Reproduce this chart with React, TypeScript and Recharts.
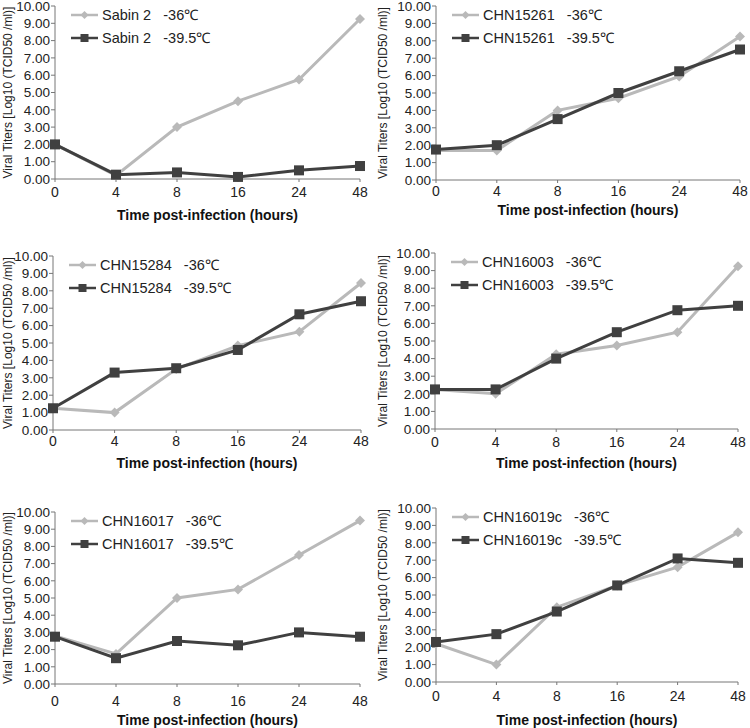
import React from "react";
import { LineChart, Line, XAxis, YAxis } from "recharts";

// time points (hours post-infection)
const hours = ["0", "4", "8", "16", "24", "48"];
const yTicks = [0, 1, 2, 3, 4, 5, 6, 7, 8, 9, 10];

const strains = ["Sabin 2", "CHN15261", "CHN15284", "CHN16003", "CHN16017", "CHN16019c"];

// titers, Log10 TCID50/ml
const sabin2_36 = [2.0, 0.2, 3.0, 4.5, 5.75, 9.25];
const sabin2_395 = [2.0, 0.25, 0.38, 0.12, 0.5, 0.75];
const chn15261_36 = [1.7, 1.7, 4.0, 4.7, 5.95, 8.25];
const chn15261_395 = [1.75, 2.0, 3.5, 5.0, 6.25, 7.5];
const chn15284_36 = [1.25, 1.0, 3.5, 4.85, 5.65, 8.45];
const chn15284_395 = [1.25, 3.3, 3.55, 4.6, 6.65, 7.4];
const chn16003_36 = [2.25, 2.0, 4.25, 4.75, 5.5, 9.25];
const chn16003_395 = [2.25, 2.25, 4.0, 5.5, 6.75, 7.0];
const chn16017_36 = [2.8, 1.75, 5.0, 5.5, 7.5, 9.5];
const chn16017_395 = [2.75, 1.5, 2.5, 2.25, 3.0, 2.75];
const chn16019c_36 = [2.2, 1.0, 4.3, 5.55, 6.6, 8.6];
const chn16019c_395 = [2.3, 2.75, 4.05, 5.55, 7.1, 6.85];

const series36 = [sabin2_36, chn15261_36, chn15284_36, chn16003_36, chn16017_36, chn16019c_36];
const series395 = [sabin2_395, chn15261_395, chn15284_395, chn16003_395, chn16017_395, chn16019c_395];

// panel placement on the page
const layouts = [
  { left: 0, top: 0, h: 230, mTop: 6, mRight: 15, yW: 55, xH: 51, tickMargin: 5, titleDy: 36 },
  { left: 375, top: 0, h: 230, mTop: 6, mRight: 10, yW: 61, xH: 50, tickMargin: 3, titleDy: 30 },
  { left: 0, top: 240, h: 240, mTop: 16, mRight: 14, yW: 53, xH: 50, tickMargin: 3, titleDy: 33 },
  { left: 375, top: 240, h: 240, mTop: 13, mRight: 12, yW: 60, xH: 51, tickMargin: 5, titleDy: 34 },
  { left: 0, top: 490, h: 238, mTop: 22, mRight: 15, yW: 55, xH: 44, tickMargin: 9, titleDy: 36 },
  { left: 375, top: 490, h: 238, mTop: 18, mRight: 12, yW: 61, xH: 46, tickMargin: 6, titleDy: 38 },
];

const LIGHT = "#b9b9b9";
const DARK = "#404040";
const AXIS = "#777";
const FONT = '"Liberation Sans", Arial, sans-serif';

const Diamond = (props: any) => {
  const { cx, cy, index } = props;
  if (cx == null || cy == null) return <g key={`d-${index}`} />;
  return (
    <path
      key={`d-${index}`}
      d={`M${cx},${cy - 5}L${cx + 5},${cy}L${cx},${cy + 5}L${cx - 5},${cy}Z`}
      fill={LIGHT}
    />
  );
};

const Square = (props: any) => {
  const { cx, cy, index } = props;
  if (cx == null || cy == null) return <g key={`s-${index}`} />;
  return <rect key={`s-${index}`} x={cx - 5} y={cy - 5} width={10} height={10} fill={DARK} />;
};

const XTitle = (props: any) => {
  const vb = props.viewBox || {};
  const dy = props.dy0 || 34;
  return (
    <text
      x={vb.x + vb.width / 2}
      y={vb.y + dy}
      textAnchor="middle"
      dominantBaseline="central"
      fontFamily={FONT}
      fontSize={14}
      fontWeight="bold"
      fill="#111"
    >
      Time post-infection (hours)
    </text>
  );
};

const YTitle = (props: any) => {
  const vb = props.viewBox || {};
  const x = vb.x + 8;
  const y = vb.y + vb.height / 2;
  return (
    <text
      x={x}
      y={y}
      transform={`rotate(-90, ${x}, ${y})`}
      textAnchor="middle"
      dominantBaseline="central"
      fontFamily={FONT}
      fontSize={12}
      fill="#222"
    >
      Viral Titers [Log10 (TCID50 /ml)]
    </text>
  );
};

const Panel = ({ idx }: { idx: number }) => {
  const lay = layouts[idx];
  const name = strains[idx];
  const data = hours.map((h, i) => ({ hour: h, c36: series36[idx][i], c395: series395[idx][i] }));
  const legendRows = [
    { label: `${name}   -36℃`, color: LIGHT, marker: "diamond" },
    { label: `${name}   -39.5℃`, color: DARK, marker: "square" },
  ];
  return (
    <div style={{ position: "absolute", left: lay.left, top: lay.top, width: 375, height: lay.h }}>
      <LineChart
        width={375}
        height={lay.h}
        data={data}
        margin={{ top: lay.mTop, right: lay.mRight, left: 0, bottom: 0 }}
      >
        <XAxis
          dataKey="hour"
          type="category"
          interval={0}
          height={lay.xH}
          tickSize={3}
          tickMargin={lay.tickMargin}
          axisLine={{ stroke: AXIS }}
          tickLine={{ stroke: AXIS }}
          tick={{ fontSize: 14, fill: "#222", fontFamily: FONT }}
          label={{ content: (p: any) => <XTitle {...p} dy0={lay.titleDy} /> }}
        />
        <YAxis
          type="number"
          domain={[0, 10]}
          ticks={yTicks}
          interval={0}
          width={lay.yW}
          tickSize={4}
          tickMargin={1}
          tickFormatter={(v: number) => v.toFixed(2)}
          axisLine={{ stroke: AXIS }}
          tickLine={{ stroke: AXIS }}
          tick={{ fontSize: 13.5, fill: "#222", fontFamily: FONT }}
          label={{ content: (p: any) => <YTitle {...p} /> }}
        />
        <Line
          type="linear"
          dataKey="c36"
          stroke={LIGHT}
          strokeWidth={3}
          dot={Diamond}
          activeDot={false}
          isAnimationActive={false}
        />
        <Line
          type="linear"
          dataKey="c395"
          stroke={DARK}
          strokeWidth={3}
          dot={Square}
          activeDot={false}
          isAnimationActive={false}
        />
      </LineChart>
      <svg
        width={220}
        height={44}
        style={{ position: "absolute", left: lay.yW + 16, top: lay.mTop, pointerEvents: "none" }}
      >
        {legendRows.map((r, i) => {
          const y = 9 + i * 23;
          return (
            <g key={i}>
              <line x1={0} y1={y} x2={27} y2={y} stroke={r.color} strokeWidth={2.5} />
              {r.marker === "diamond" ? (
                <path d={`M13.5,${y - 4}L17.5,${y}L13.5,${y + 4}L9.5,${y}Z`} fill={r.color} />
              ) : (
                <rect x={9.5} y={y - 4} width={8} height={8} fill={r.color} />
              )}
              <text
                x={31}
                y={y}
                dominantBaseline="central"
                fontFamily={FONT}
                fontSize={14.5}
                fill="#222"
                style={{ whiteSpace: "pre" }}
              >
                {r.label}
              </text>
            </g>
          );
        })}
      </svg>
    </div>
  );
}

export default function App() {
  return (
    <div style={{ position: "absolute", left: 0, top: 0, width: 750, height: 728, background: "#fff" }}>
      {strains.map((s, i) => (
        <Panel key={s} idx={i} />
      ))}
    </div>
  );
}
